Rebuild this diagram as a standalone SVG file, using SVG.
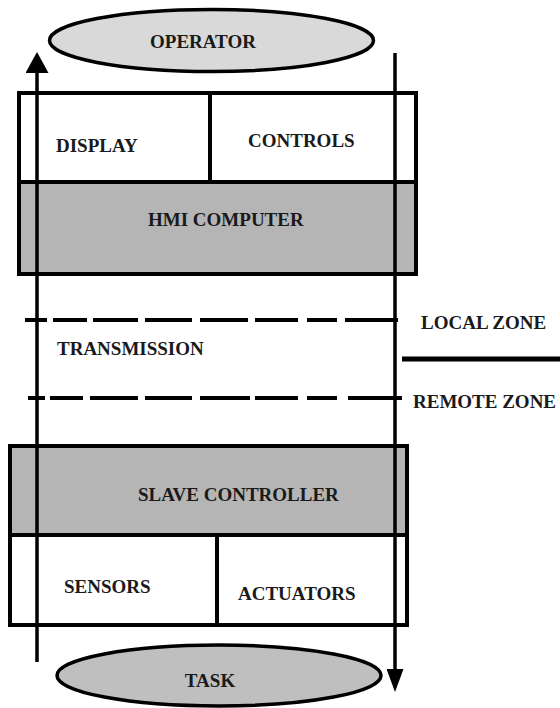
<svg xmlns="http://www.w3.org/2000/svg" width="560" height="708" viewBox="0 0 560 708">
  <style>
    .lbl { font-family: "Liberation Serif", "Times New Roman", serif; font-weight: bold; font-size: 19px; fill: #1a1a1a; }
    .box { fill: #ffffff; stroke: #000; stroke-width: 4; }
    .gray { fill: #b5b5b5; stroke: #000; stroke-width: 4; }
    .div { stroke: #000; stroke-width: 4; fill: none; }
    .flow { stroke: #000; stroke-width: 3.5; fill: none; }
    .dash { stroke: #000; stroke-width: 4; fill: none; }
  </style>
  <defs>
    <marker id="arrowUp" viewBox="0 0 21 23" refX="0" refY="11.5" markerWidth="21" markerHeight="23" markerUnits="userSpaceOnUse" orient="auto">
      <path d="M0,0 L21,11.5 L0,23 z" fill="#000"/>
    </marker>
    <marker id="arrowDown" viewBox="0 0 23 17" refX="0" refY="8.5" markerWidth="23" markerHeight="17" markerUnits="userSpaceOnUse" orient="auto">
      <path d="M0,0 L23,8.5 L0,17 z" fill="#000"/>
    </marker>
  </defs>
  <rect width="560" height="708" fill="#ffffff"/>

  <g id="operator">
    <ellipse cx="211.5" cy="40.5" rx="162" ry="31" fill="#d9d9d9" stroke="#000" stroke-width="3.5"/>
    <text class="lbl" x="203" y="48" text-anchor="middle">OPERATOR</text>
  </g>

  <g id="hmi">
    <rect class="box" x="19" y="93" width="397" height="89"/>
    <rect class="gray" x="19" y="182" width="397" height="92"/>
    <line class="div" x1="210" y1="93" x2="210" y2="182"/>
    <text class="lbl" x="56" y="152">DISPLAY</text>
    <text class="lbl" x="248" y="147">CONTROLS</text>
    <text class="lbl" x="148" y="226">HMI COMPUTER</text>
  </g>

  <g id="transmission">
    <path class="dash" d="M25,320 H47 M53,320 H87 M93,320 H138 M145,320 H192 M200,320 H248 M255,320 H298 M307,320 H337 M345,320 H398"/>
    <path class="dash" d="M28,398 H45 M50,398 H83 M90,398 H138 M145,398 H192 M200,398 H250 M255,398 H298 M307,398 H337 M348,398 H402"/>
    <text class="lbl" x="57" y="355">TRANSMISSION</text>
  </g>

  <g id="zones">
    <text class="lbl" x="421" y="329">LOCAL ZONE</text>
    <line x1="402" y1="359" x2="560" y2="359" stroke="#000" stroke-width="5"/>
    <text class="lbl" x="413" y="408">REMOTE ZONE</text>
  </g>

  <g id="slave">
    <rect class="gray" x="10" y="446" width="397" height="89"/>
    <rect class="box" x="10" y="535" width="397" height="90"/>
    <line class="div" x1="217" y1="535" x2="217" y2="625"/>
    <text class="lbl" x="138" y="501">SLAVE CONTROLLER</text>
    <text class="lbl" x="64" y="593">SENSORS</text>
    <text class="lbl" x="238" y="600">ACTUATORS</text>
  </g>

  <g id="task">
    <ellipse cx="219" cy="675.5" rx="162" ry="30.5" fill="#bfbfbf" stroke="#000" stroke-width="3.5"/>
    <text class="lbl" x="210" y="687" text-anchor="middle">TASK</text>
  </g>

  <g id="connectors">
    <line class="flow" x1="37" y1="662" x2="37" y2="73" marker-end="url(#arrowUp)"/>
    <line class="flow" x1="395" y1="53" x2="395" y2="669" marker-end="url(#arrowDown)"/>
  </g>
</svg>
